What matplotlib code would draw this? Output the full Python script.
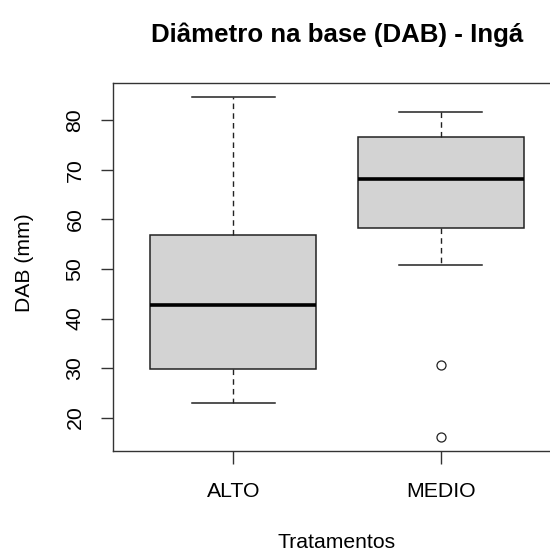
import matplotlib
matplotlib.use("Agg")
import matplotlib.pyplot as plt

plt.rcParams['font.family'] = ['Liberation Sans', 'DejaVu Sans']

# values (DAB in mm)
groups = ['ALTO', 'MEDIO']
whislo = [23.0, 50.8]
q1 = [29.8, 58.2]
med = [42.8, 68.2]
q3 = [56.8, 76.6]
whishi = [84.8, 81.6]
fliers = [[], [30.6, 16.0]]

stats = []
for i, g in enumerate(groups):
    stats.append(dict(label=g, whislo=whislo[i], q1=q1[i], med=med[i],
                      q3=q3[i], whishi=whishi[i], fliers=fliers[i]))

W, H = 550, 552
fig = plt.figure(figsize=(W / 100, H / 100), dpi=100)
ax = fig.add_axes([113 / W, (H - 451) / H, (561 - 113) / W, (451 - 83) / H])

edge = '#222222'
ax.bxp(stats, positions=[1, 2], widths=0.8, patch_artist=True,
       boxprops=dict(facecolor='#d3d3d3', edgecolor=edge, linewidth=1.1),
       medianprops=dict(color='black', linewidth=2.6, solid_capstyle='butt'),
       whiskerprops=dict(color=edge, linewidth=1.0, linestyle=(0, (4, 3))),
       capprops=dict(color=edge, linewidth=1.1),
       capwidths=0.4,
       flierprops=dict(marker='o', markerfacecolor='white', markeredgecolor=edge,
                       markersize=6.5, markeredgewidth=0.9, linestyle='none'))

ax.set_xlim(0.42, 2.58)
lo = min(min(whislo), min(min(f) for f in fliers if f))
hi = max(whishi)
pad = (hi - lo) * 0.04
ax.set_ylim(lo - pad, hi + pad)
ax.set_yticks([20, 30, 40, 50, 60, 70, 80])

for s in ax.spines.values():
    s.set_color('#333333')
    s.set_linewidth(1.0)

ax.tick_params(axis='both', direction='out', length=9, width=1.0, color='#333333',
               labelsize=15.3, labelcolor='black')
ax.tick_params(axis='y', pad=11.5)
ax.tick_params(axis='x', pad=13.5)
for lab in ax.get_yticklabels():
    lab.set_rotation(90)
    lab.set_va('center')

fig.text(337 / W, 1 - 35 / H, 'Diâmetro na base (DAB) - Ingá', ha='center', va='center',
         fontsize=18.6, fontweight='bold')
fig.text(337 / W, 1 - 543 / H, 'Tratamentos', ha='center', va='center', fontsize=15.2)
fig.text(24 / W, 1 - 263 / H, 'DAB (mm)', ha='center', va='center', rotation=90,
         fontsize=15.2)

fig.savefig('out.png', dpi=100)
